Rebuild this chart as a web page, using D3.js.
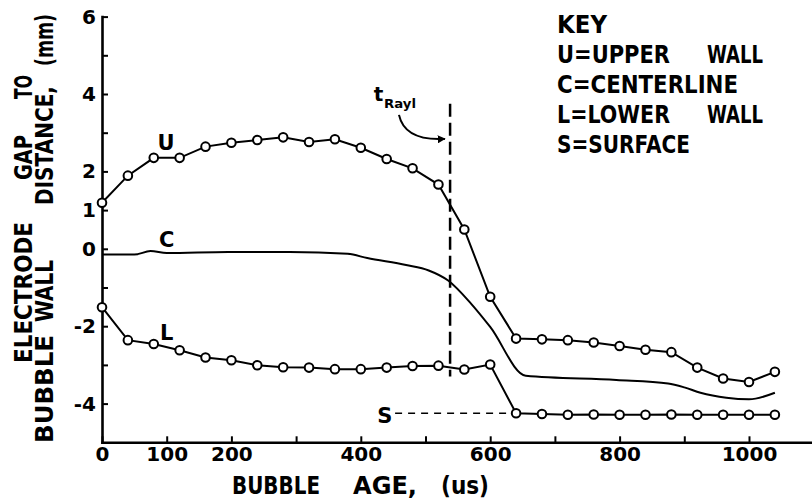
<!DOCTYPE html>
<html><head><meta charset="utf-8">
<script src="https://cdn.jsdelivr.net/npm/d3@7"></script>
<style>
body{margin:0;background:#fff}
svg{display:block;background:#fff}
text{font-family:"DejaVu Sans",sans-serif;font-weight:bold;fill:#000}
</style>
</head><body>
<svg id="c" width="812" height="503"></svg>
<script>
// ---- data ----
const ages = [0,40,80,120,160,200,240,280,320,360,400,440,480,520,560,600,640,680,720,760,800,840,880,920,960,1000,1040];
const upperWall = [1.19,1.89,2.35,2.35,2.64,2.74,2.81,2.88,2.76,2.83,2.61,2.32,2.08,1.66,0.50,-1.24,-2.32,-2.34,-2.36,-2.42,-2.51,-2.61,-2.67,-3.07,-3.35,-3.44,-3.18];
const lowerAges = [0,40,80,120,160,200,240,280,320,360,400,440,480,520,560,600];
const lowerWall = [-1.51,-2.36,-2.46,-2.62,-2.81,-2.88,-3.01,-3.06,-3.07,-3.11,-3.11,-3.07,-3.03,-3.02,-3.12,-2.99];
const surfaceAges = [640,680,720,760,800,840,880,920,960,1000,1040];
const surface = [-4.25,-4.27,-4.29,-4.28,-4.29,-4.29,-4.28,-4.29,-4.29,-4.29,-4.29];
const centerAges = [0,50,75,100,195,290,380,410,470,505,535,570,600,655,795,875,900,925,965,1000,1040];
const centerline = [-0.15,-0.15,-0.06,-0.11,-0.08,-0.08,-0.13,-0.24,-0.42,-0.56,-0.82,-1.41,-2.02,-3.28,-3.39,-3.48,-3.58,-3.72,-3.85,-3.89,-3.72];
const tRayl = 538;                 // Rayleigh collapse time (us)
const tRaylSpan = [3.75, -3.3];   // vertical extent of marker line
const surfaceDashFrom = 453;      // S dashed guide start (us)

const yTicks = [6,5,4,3,2,1,0,-1,-2,-3,-4];
const yTickLabels = [6,4,2,1,0,-2,-4];
const xTicks = [0,100,200,300,400,500,600,700,800,900,1000];
const xTickLabels = [0,100,200,400,600,800,1000];

const xTitle = [["BUBBLE",232,320],["AGE,",353,417],["(us)",441,489]];
const yTitle1 = [["ELECTRODE",363,222],["GAP",180,135],["TO",99,75]];
const yTitle2 = [["BUBBLE",443,335],["WALL",322,260],["DISTANCE,",205,86],["(mm)",66,14]];
const keyRows = [["KEY",33,557,50],["U=UPPER",63,557,113],["WALL",63,707,56],["C=CENTERLINE",93,557,181],["L=LOWER",123,557,113],["WALL",123,707,56],["S=SURFACE",153,557,133]];
const seriesLabels = [["U",99,2.55],["C",100,0.05],["L",100,-2.36],["S",437,-4.5]];

// ---- drawing ----
const svg = d3.select("#c");
const x = d3.scaleLinear().domain([0,1100]).range([102,813.7]);
const y = d3.scaleLinear().domain([-5,6]).range([442.3,16.6]);

svg.append("defs").append("marker")
  .attr("id","ah").attr("viewBox","0 0 10 10").attr("refX",9).attr("refY",5)
  .attr("markerWidth",4).attr("markerHeight",4).attr("orient","auto")
  .append("path").attr("d","M0,0L10,5L0,10z").attr("fill","#000");

// axes
const gy = svg.append("g").attr("transform",`translate(${x(0)},0)`)
  .call(d3.axisLeft(y).tickValues(yTicks).tickSize(-6).tickSizeOuter(0).tickPadding(6)
    .tickFormat(d => yTickLabels.includes(d) ? String(d) : ""));
const gx = svg.append("g").attr("transform",`translate(0,${y(-5)})`)
  .call(d3.axisBottom(x).tickValues(xTicks).tickSize(-6).tickSizeOuter(0).tickPadding(4)
    .tickFormat(d => xTickLabels.includes(d) ? String(d) : ""));
[gy,gx].forEach(g=>{
  g.attr("font-family",null).attr("font-size",null);
  g.select(".domain").attr("stroke","#000").attr("stroke-width",2.6).attr("stroke-linecap","square");
  g.selectAll(".tick line").attr("stroke","#000").attr("stroke-width",2);
  g.selectAll(".tick text").style("font-size","20px").style("font-family","'DejaVu Sans',sans-serif").style("font-weight","bold").attr("fill","#000");
});

// axis titles
svg.selectAll(".xt").data(xTitle).join("text")
  .attr("x",d=>d[1]).attr("y",494).attr("textLength",d=>d[2]-d[1]).attr("lengthAdjust","spacingAndGlyphs")
  .style("font-size","24px").text(d=>d[0]);
function yTitleLine(words, bx){
  svg.append("g").selectAll("text").data(words).join("text")
    .attr("transform",d=>`translate(${bx},${d[1]}) rotate(-90)`)
    .attr("textLength",d=>d[1]-d[2]).attr("lengthAdjust","spacingAndGlyphs")
    .style("font-size","25px").text(d=>d[0]);
}
yTitleLine(yTitle1, 32);
yTitleLine(yTitle2, 53);

// centerline
svg.append("path").datum(centerAges.map((a,i)=>[a,centerline[i]]))
  .attr("fill","none").attr("stroke","#000").attr("stroke-width",2)
  .attr("d",d3.line().x(d=>x(d[0])).y(d=>y(d[1])).curve(d3.curveMonotoneX));

// t_Rayl dashed line
svg.append("line").attr("x1",x(tRayl)).attr("x2",x(tRayl)).attr("y1",y(tRaylSpan[0])).attr("y2",y(tRaylSpan[1]))
  .attr("stroke","#000").attr("stroke-width",2.5).attr("stroke-dasharray","13,6");

// surface dashed guide
svg.append("line").attr("x1",x(surfaceDashFrom)).attr("x2",x(surfaceAges[0])).attr("y1",y(surface[0])).attr("y2",y(surface[0]))
  .attr("stroke","#000").attr("stroke-width",1.6).attr("stroke-dasharray","7,6");

const line = d3.line().x(d=>x(d[0])).y(d=>y(d[1]));
const U = ages.map((a,i)=>[a,upperWall[i]]);
const L = lowerAges.map((a,i)=>[a,lowerWall[i]]).concat(surfaceAges.map((a,i)=>[a,surface[i]]));
[U,L].forEach(s=>{
  svg.append("path").datum(s).attr("fill","none").attr("stroke","#000").attr("stroke-width",2).attr("d",line);
  svg.append("g").selectAll("circle").data(s).join("circle")
    .attr("cx",d=>x(d[0])).attr("cy",d=>y(d[1])).attr("r",4.3)
    .attr("fill","#fff").attr("stroke","#000").attr("stroke-width",2);
});

// series letters
svg.selectAll(".sl").data(seriesLabels).join("text")
  .attr("x",d=>x(d[1])).attr("y",d=>y(d[2])).attr("text-anchor","middle")
  .style("font-size","21px").text(d=>d[0]);

// t_Rayl annotation
svg.append("text").attr("x",x(420)).attr("y",y(3.83)).style("font-size","20px").text("t");
svg.append("text").attr("x",x(436)).attr("y",y(3.65)).attr("textLength",32).attr("lengthAdjust","spacingAndGlyphs")
  .style("font-size","12px").text("Rayl");
svg.append("path")
  .attr("d",`M${x(459)},${y(3.46)} Q${x(468)},${y(2.78)} ${x(530)},${y(2.84)}`)
  .attr("fill","none").attr("stroke","#000").attr("stroke-width",2).attr("marker-end","url(#ah)");

// key
svg.selectAll(".key").data(keyRows).join("text")
  .attr("x",d=>d[2]).attr("y",d=>d[1]).attr("textLength",d=>d[3]).attr("lengthAdjust","spacingAndGlyphs")
  .style("font-size","24px").text(d=>d[0]);
</script>
</body></html>
